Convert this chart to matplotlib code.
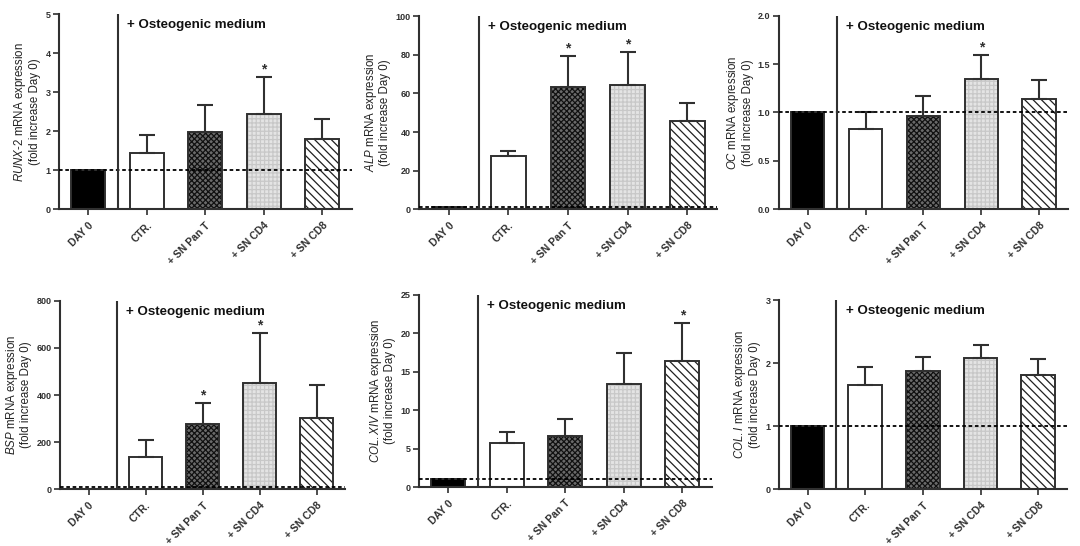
import matplotlib
matplotlib.use('Agg')
import matplotlib.pyplot as plt
import numpy as np

plt.rcParams['font.family'] = ['Liberation Sans', 'DejaVu Sans']
plt.rcParams['mathtext.fontset'] = 'custom'
plt.rcParams['mathtext.it'] = 'Liberation Sans:italic'
plt.rcParams['mathtext.rm'] = 'Liberation Sans'
plt.rcParams['hatch.linewidth'] = 0.9

# groups on the x axis
groups = ['DAY 0', 'CTR.', '+ SN Pan T', '+ SN CD4', '+ SN CD8']

# per panel: gene, y max, tick step, means, upper SEM end, stars, reference line
genes = ['RUNX-2', 'ALP', 'OC', 'BSP', 'COL.XIV', 'COL.I']
ymax = [5, 100, 2.0, 800, 25, 3]
ystep = [1, 20, 0.5, 200, 5, 1]
ref_line = [1, 1, 1, 8, 1, 1]

runx2_mean = [1.0, 1.43, 1.97, 2.45, 1.79]
runx2_top = [None, 1.90, 2.68, 3.39, 2.30]
alp_mean = [1.0, 27.8, 63.3, 64.5, 45.9]
alp_top = [None, 29.9, 79.2, 81.5, 55.1]
oc_mean = [1.0, 0.83, 0.965, 1.345, 1.135]
oc_top = [None, 1.005, 1.17, 1.595, 1.34]
bsp_mean = [1.0, 135, 278, 452, 304]
bsp_top = [None, 210, 366, 662, 443]
col14_mean = [1.0, 5.7, 6.6, 13.4, 16.4]
col14_top = [None, 7.15, 8.85, 17.4, 21.3]
col1_mean = [1.0, 1.66, 1.87, 2.08, 1.81]
col1_top = [None, 1.94, 2.10, 2.29, 2.07]

means = [runx2_mean, alp_mean, oc_mean, bsp_mean, col14_mean, col1_mean]
tops = [runx2_top, alp_top, oc_top, bsp_top, col14_top, col1_top]
stars = [[3], [2, 3], [3], [2, 3], [4], []]

# bar looks: face, hatch, hatch colour
faces = ['black', 'white', '#6a6a6a', '#e4e4e4', 'white']
hatches = [None, None, 'xxxxxx', '++++', '\\\\\\\\']
hatch_cols = ['black', 'white', '#111111', '#c8c8c8', '#202020']

dark = '#303030'

# axes rectangles [left, bottom, width, height] in figure fractions
positions = [
    [0.0546, 0.617, 0.271, 0.357],
    [0.388, 0.617, 0.276, 0.353],
    [0.721, 0.617, 0.268, 0.354],
    [0.0556, 0.104, 0.264, 0.345],
    [0.388, 0.108, 0.271, 0.352],
    [0.721, 0.104, 0.267, 0.346],
]

fig = plt.figure(figsize=(10.8, 5.46), dpi=100)

x = np.arange(len(groups))
width = 0.58

for i, gene in enumerate(genes):
    ax = fig.add_axes(positions[i])
    m = means[i]
    # hatched fill first, then the outline on top
    for j in range(len(groups)):
        ax.bar(x[j], m[j], width=width, color=faces[j], hatch=hatches[j],
               edgecolor=hatch_cols[j], linewidth=0, zorder=2)
        ax.bar(x[j], m[j], width=width, fill=False, edgecolor=dark,
               linewidth=1.4, zorder=3)
        if tops[i][j] is not None:
            err = tops[i][j] - m[j]
            ax.errorbar(x[j], m[j], yerr=[[0], [err]], fmt='none',
                        ecolor=dark, elinewidth=1.5, capsize=6,
                        capthick=1.5, zorder=4)
    for j in stars[i]:
        ax.text(x[j], tops[i][j] + ymax[i] * 0.003, '*', ha='center',
                va='bottom', fontsize=10, fontweight='bold', color=dark)

    ax.axhline(ref_line[i], color='black', ls=(0, (2.0, 1.5)), lw=1.3, zorder=5)
    ax.axvline(0.5, color=dark, lw=1.5, zorder=5)
    ax.text(0.66, ymax[i] * 0.975, '+ Osteogenic medium', ha='left', va='top',
            fontsize=9.6, fontweight='bold', color='#111111')

    ax.set_xlim(-0.5, 4.5)
    ax.set_ylim(0, ymax[i])
    yt = np.arange(0, ymax[i] + ystep[i] * 0.01, ystep[i])
    ax.set_yticks(yt)
    if ystep[i] < 1:
        ax.set_yticklabels([f'{v:.1f}' for v in yt])
    ax.set_xticks(x)
    ax.set_xticklabels(groups, rotation=45, ha='right', rotation_mode='anchor',
                       fontsize=7.5, fontweight='bold', color=dark)
    for lab in ax.get_yticklabels():
        lab.set_fontweight('bold')
        lab.set_fontsize(6.5)
        lab.set_color(dark)
    ax.tick_params(axis='both', direction='out', length=4, width=1.2,
                   color=dark, pad=2)
    ax.tick_params(axis='x', pad=4)
    for s in ['top', 'right']:
        ax.spines[s].set_visible(False)
    for s in ['left', 'bottom']:
        ax.spines[s].set_linewidth(1.5)
        ax.spines[s].set_color(dark)

    gene_tex = gene.replace('-', r'\text{-}')
    ax.set_ylabel(r'$\mathit{' + gene_tex + '}$ mRNA expression\n(fold increase Day 0)',
                  fontsize=8.3, color='#222222', labelpad=3, linespacing=1.1)

fig.savefig('out.png', dpi=100)
